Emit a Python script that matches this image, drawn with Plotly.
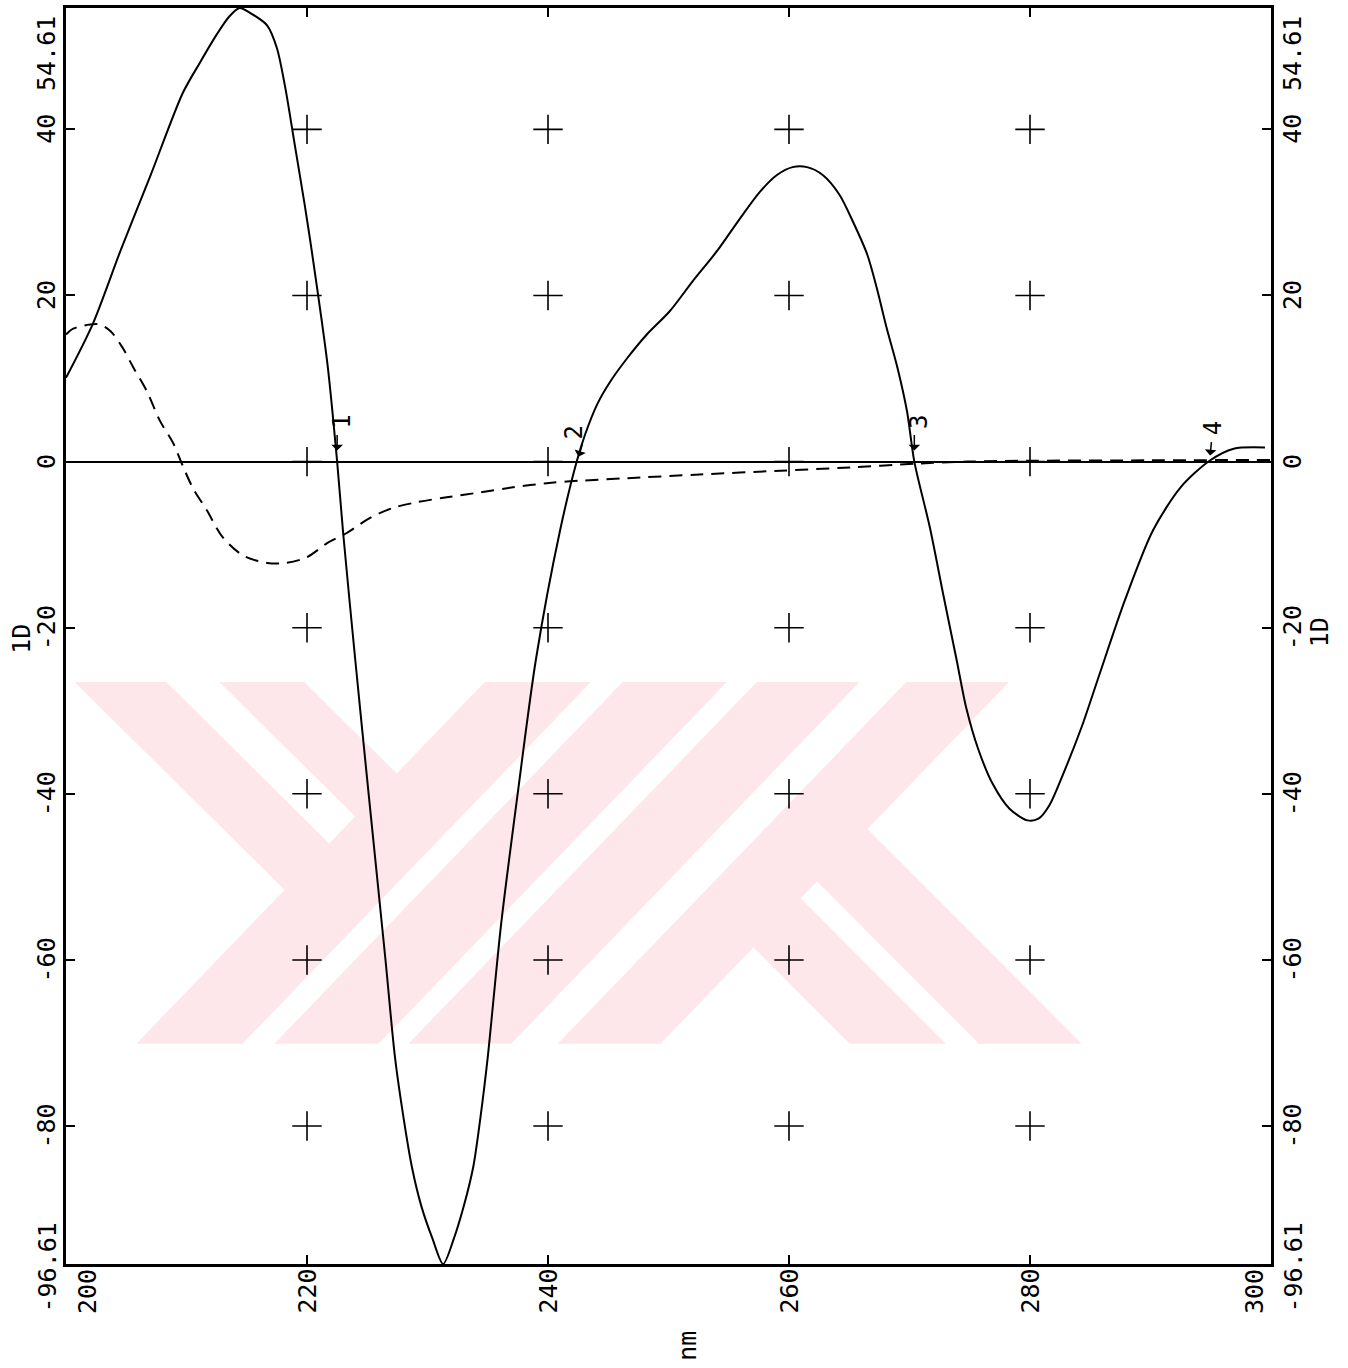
import plotly.graph_objects as go

# First-derivative spectrum (1D), solid trace
wavelength_1d = [200.0, 202.2, 204.5, 207.0, 209.7, 211.1, 212.5, 213.5, 214.4,
                 215.3, 216.7, 217.5, 218.2, 219.0, 219.8, 220.4, 221.7,
                 222.5, 223.0, 224.0, 225.1, 226.5, 227.3, 228.0, 228.7, 229.5,
                 230.4, 231.3, 232.2, 233.0, 233.8, 234.4, 235.0, 236.1, 237.5, 239.0,
                 241.0, 242.4, 243.1, 244.1, 245.2, 246.6, 248.2, 250.1, 252.0, 254.0,
                 255.9, 257.6, 259.0, 260.3, 261.5, 262.8, 264.2, 265.3, 266.5, 267.3, 268.1,
                 269.0, 269.8, 270.4, 271.7, 272.8, 273.9, 274.7, 275.7, 276.9, 278.3, 279.8,
                 280.7, 281.6, 282.7, 284.3, 285.7, 287.9, 290.2, 292.5, 294.9, 296.9, 299.5]
deriv_1d = [10.1, 16.5, 25.3, 34.4, 44.4, 48.0, 51.4, 53.5, 54.61,
            54.0, 52.5, 49.8, 45.0, 38.0, 31.0, 25.3, 11.7,
            0.0, -8.6, -23.8, -39.8, -59.8, -71.7, -78.9, -84.9, -89.7,
            -93.5, -96.61, -93.5, -89.7, -84.9, -78.9, -71.7, -55.8, -39.8, -23.8,
            -8.3, 0.1, 3.35, 6.95, 9.7, 12.5, 15.3, 18.1, 21.7, 25.3,
            29.2, 32.5, 34.5, 35.45, 35.45, 34.5, 32.1, 28.9, 24.9, 20.8, 16.1,
            11.3, 6.0, 0.0, -8.0, -16.0, -23.8, -29.6, -34.6, -38.8, -41.8, -43.2,
            -43.0, -41.4, -37.8, -31.9, -25.9, -16.6, -8.3, -3.1, 0.1, 1.55, 1.7]

# Reference (zero-order) spectrum, dashed trace
wavelength_ref = [200.0, 200.6, 202.0, 202.8, 203.7, 204.7, 205.6, 206.7, 207.8, 208.9, 209.6,
                  210.5, 211.7, 213.0, 214.7, 216.7, 218.3, 220.0, 221.7, 223.3, 225.2, 227.1,
                  229.1, 231.6, 234.4, 237.1, 239.9, 242.7, 246.6, 252.6, 259.3, 265.1, 270.6,
                  274.8, 280.0, 290.0, 300.0]
spectrum_ref = [15.3, 16.0, 16.5, 16.5, 15.7, 13.7, 11.3, 8.5, 4.9, 2.2, -0.2,
                -3.1, -5.9, -9.1, -11.3, -12.2, -12.2, -11.5, -9.8, -8.6, -6.8, -5.6,
                -4.9, -4.3, -3.7, -3.1, -2.6, -2.3, -2.0, -1.55, -1.1, -0.7, -0.25,
                0.0, 0.1, 0.15, 0.2]

# Axis labelling
x_ticks = [200, 220, 240, 260, 280, 300]
x_tick_labels = ["200", "220", "240", "260", "280", "300"]
y_ticks = [54.61, 40, 20, 0, -20, -40, -60, -80, -96.61]
y_tick_labels = ["54.61", "40", "20", "0", "-20", "-40", "-60", "-80", "-96.61"]
x_range = [200, 300]
y_range = [-96.61, 54.61]

# Interior "+" grid markers
grid_x = [220, 240, 260, 280]
grid_y = [40, 20, 0, -20, -40, -60, -80]

# Zero-crossing markers of the derivative trace
zero_cross_nm = [222.5, 242.4, 270.4, 294.9]
zero_cross_labels = ["1", "2", "3", "4"]

FONT = "DejaVu Sans Mono"
W, H = 1348, 1368
ML, MR, MT, MB = 66, 77, 5, 104
PW, PH = W - ML - MR, H - MT - MB

fig = go.Figure()

fig.add_trace(go.Scatter(
    x=[gx for gy in grid_y for gx in grid_x],
    y=[gy for gy in grid_y for gx in grid_x],
    mode="markers",
    marker=dict(symbol="cross-thin", size=21, color="black",
                line=dict(width=1.6, color="black")),
    hoverinfo="skip",
))

fig.add_trace(go.Scatter(
    x=wavelength_ref, y=spectrum_ref, mode="lines",
    line=dict(color="black", width=2, dash="13px,8px", shape="spline", smoothing=0.9),
))

fig.add_trace(go.Scatter(
    x=wavelength_1d, y=deriv_1d, mode="lines",
    line=dict(color="black", width=2, shape="spline", smoothing=0.8),
))


def px_to_paper(px, py):
    return (px - ML) / PW, (H - MB - py) / PH


# Faint background logo made of diagonal bands (pixel outlines)
TOP, BOT = 680.7, 1043.3
bands = [
    [(484.7, TOP), (590.9, TOP), (242.5, BOT), (136.3, BOT)],
    [(622.7, TOP), (726.9, TOP), (378.5, BOT), (274.3, BOT)],
    [(756.8, TOP), (859.6, TOP), (511.2, BOT), (408.4, BOT)],
    [(906.1, TOP), (1009.0, TOP), (660.6, BOT), (557.7, BOT)],
    [(74.6, TOP), (166.2, TOP), (380.5, 893.3), (289.0, 893.3)],
    [(219.3, TOP), (304.2, TOP), (448.2, 823.3), (363.3, 823.3)],
    [(849.7, BOT), (945.9, BOT), (796.6, 893.3), (700.4, 893.3)],
    [(979.1, BOT), (1081.9, BOT), (866.3, 826.7), (763.4, 826.7)],
]
shapes = []
for poly in bands:
    pts = [px_to_paper(px, py) for px, py in poly]
    path = "M " + " L ".join(f"{a:.5f},{b:.5f}" for a, b in pts) + " Z"
    shapes.append(dict(type="path", path=path, xref="paper", yref="paper",
                       fillcolor="#fde7eb", line=dict(width=0), layer="below"))

annotations = []
tick_font = dict(family=FONT, size=25, color="black")

# Left and right value labels
for val, txt in zip(y_ticks, y_tick_labels):
    if val == y_range[1]:
        yanchor, yshift = "top", -6
    else:
        yanchor, yshift = "middle", (-4 if val == y_range[0] else 0)
    annotations.append(dict(x=0, xref="paper", y=val, yref="y", text=txt, showarrow=False,
                            textangle=-90, xanchor="right", yanchor=yanchor,
                            xshift=-3, yshift=yshift, font=tick_font))
    annotations.append(dict(x=1, xref="paper", y=val, yref="y", text=txt, showarrow=False,
                            textangle=-90, xanchor="left", yanchor=yanchor,
                            xshift=5, yshift=yshift, font=tick_font))

# Bottom wavelength labels
for val, txt in zip(x_ticks, x_tick_labels):
    if val == x_range[0]:
        xanchor, xshift = "left", 5
    elif val == x_range[1]:
        xanchor, xshift = "right", 0
    else:
        xanchor, xshift = "center", 0
    annotations.append(dict(x=val, xref="x", y=0, yref="paper", text=txt, showarrow=False,
                            textangle=-90, xanchor=xanchor, yanchor="top",
                            xshift=xshift, yshift=-3, font=tick_font))

# Axis titles
annotations.append(dict(x=0, xref="paper", y=-21.4, yref="y", text="1D", showarrow=False,
                        textangle=-90, xanchor="right", yanchor="middle", xshift=-28,
                        font=tick_font))
annotations.append(dict(x=1, xref="paper", y=-20.6, yref="y", text="1D", showarrow=False,
                        textangle=-90, xanchor="left", yanchor="middle", xshift=32,
                        font=tick_font))
nx, ny = px_to_paper(688, 1346)
annotations.append(dict(x=nx, xref="paper", y=ny, yref="paper", text="nm", showarrow=False,
                        textangle=-90, xanchor="center", yanchor="middle", font=tick_font))

# Numbered arrows at the zero crossings
label_offsets = [(4, 40), (-3, 29), (4, 40), (3, 33)]
arrow_geom = [(0, -28, 11), (6, -19, 5), (0, -28, 11), (2, -21, 6)]
for xc, lab, (dx, dy), (ax, ay, so) in zip(zero_cross_nm, zero_cross_labels,
                                            label_offsets, arrow_geom):
    annotations.append(dict(x=xc, y=0, xref="x", yref="y", text=lab, showarrow=False,
                            textangle=-90, xshift=dx, yshift=dy,
                            font=dict(family=FONT, size=24, color="black")))
    annotations.append(dict(x=xc, y=0, xref="x", yref="y", text="", showarrow=True,
                            ax=ax, ay=ay, standoff=so, arrowhead=1, arrowsize=1.3,
                            arrowwidth=1.5, arrowcolor="black"))

axis_common = dict(showgrid=False, showline=True, linewidth=2.5, linecolor="black",
                   mirror="ticks", ticks="inside", ticklen=9, tickwidth=2,
                   tickcolor="black", showticklabels=False)

fig.update_layout(
    width=W, height=H, autosize=False,
    margin=dict(l=ML, r=MR, t=MT, b=MB, pad=0),
    paper_bgcolor="white", plot_bgcolor="white",
    showlegend=False,
    xaxis=dict(range=x_range, tickvals=[220, 240, 260, 280], zeroline=False, **axis_common),
    yaxis=dict(range=y_range, tickvals=[-80, -60, -40, -20, 0, 20, 40], zeroline=True,
               zerolinecolor="black", zerolinewidth=1.6, **axis_common),
    shapes=shapes,
    annotations=annotations,
)

fig.write_html("out.html")
